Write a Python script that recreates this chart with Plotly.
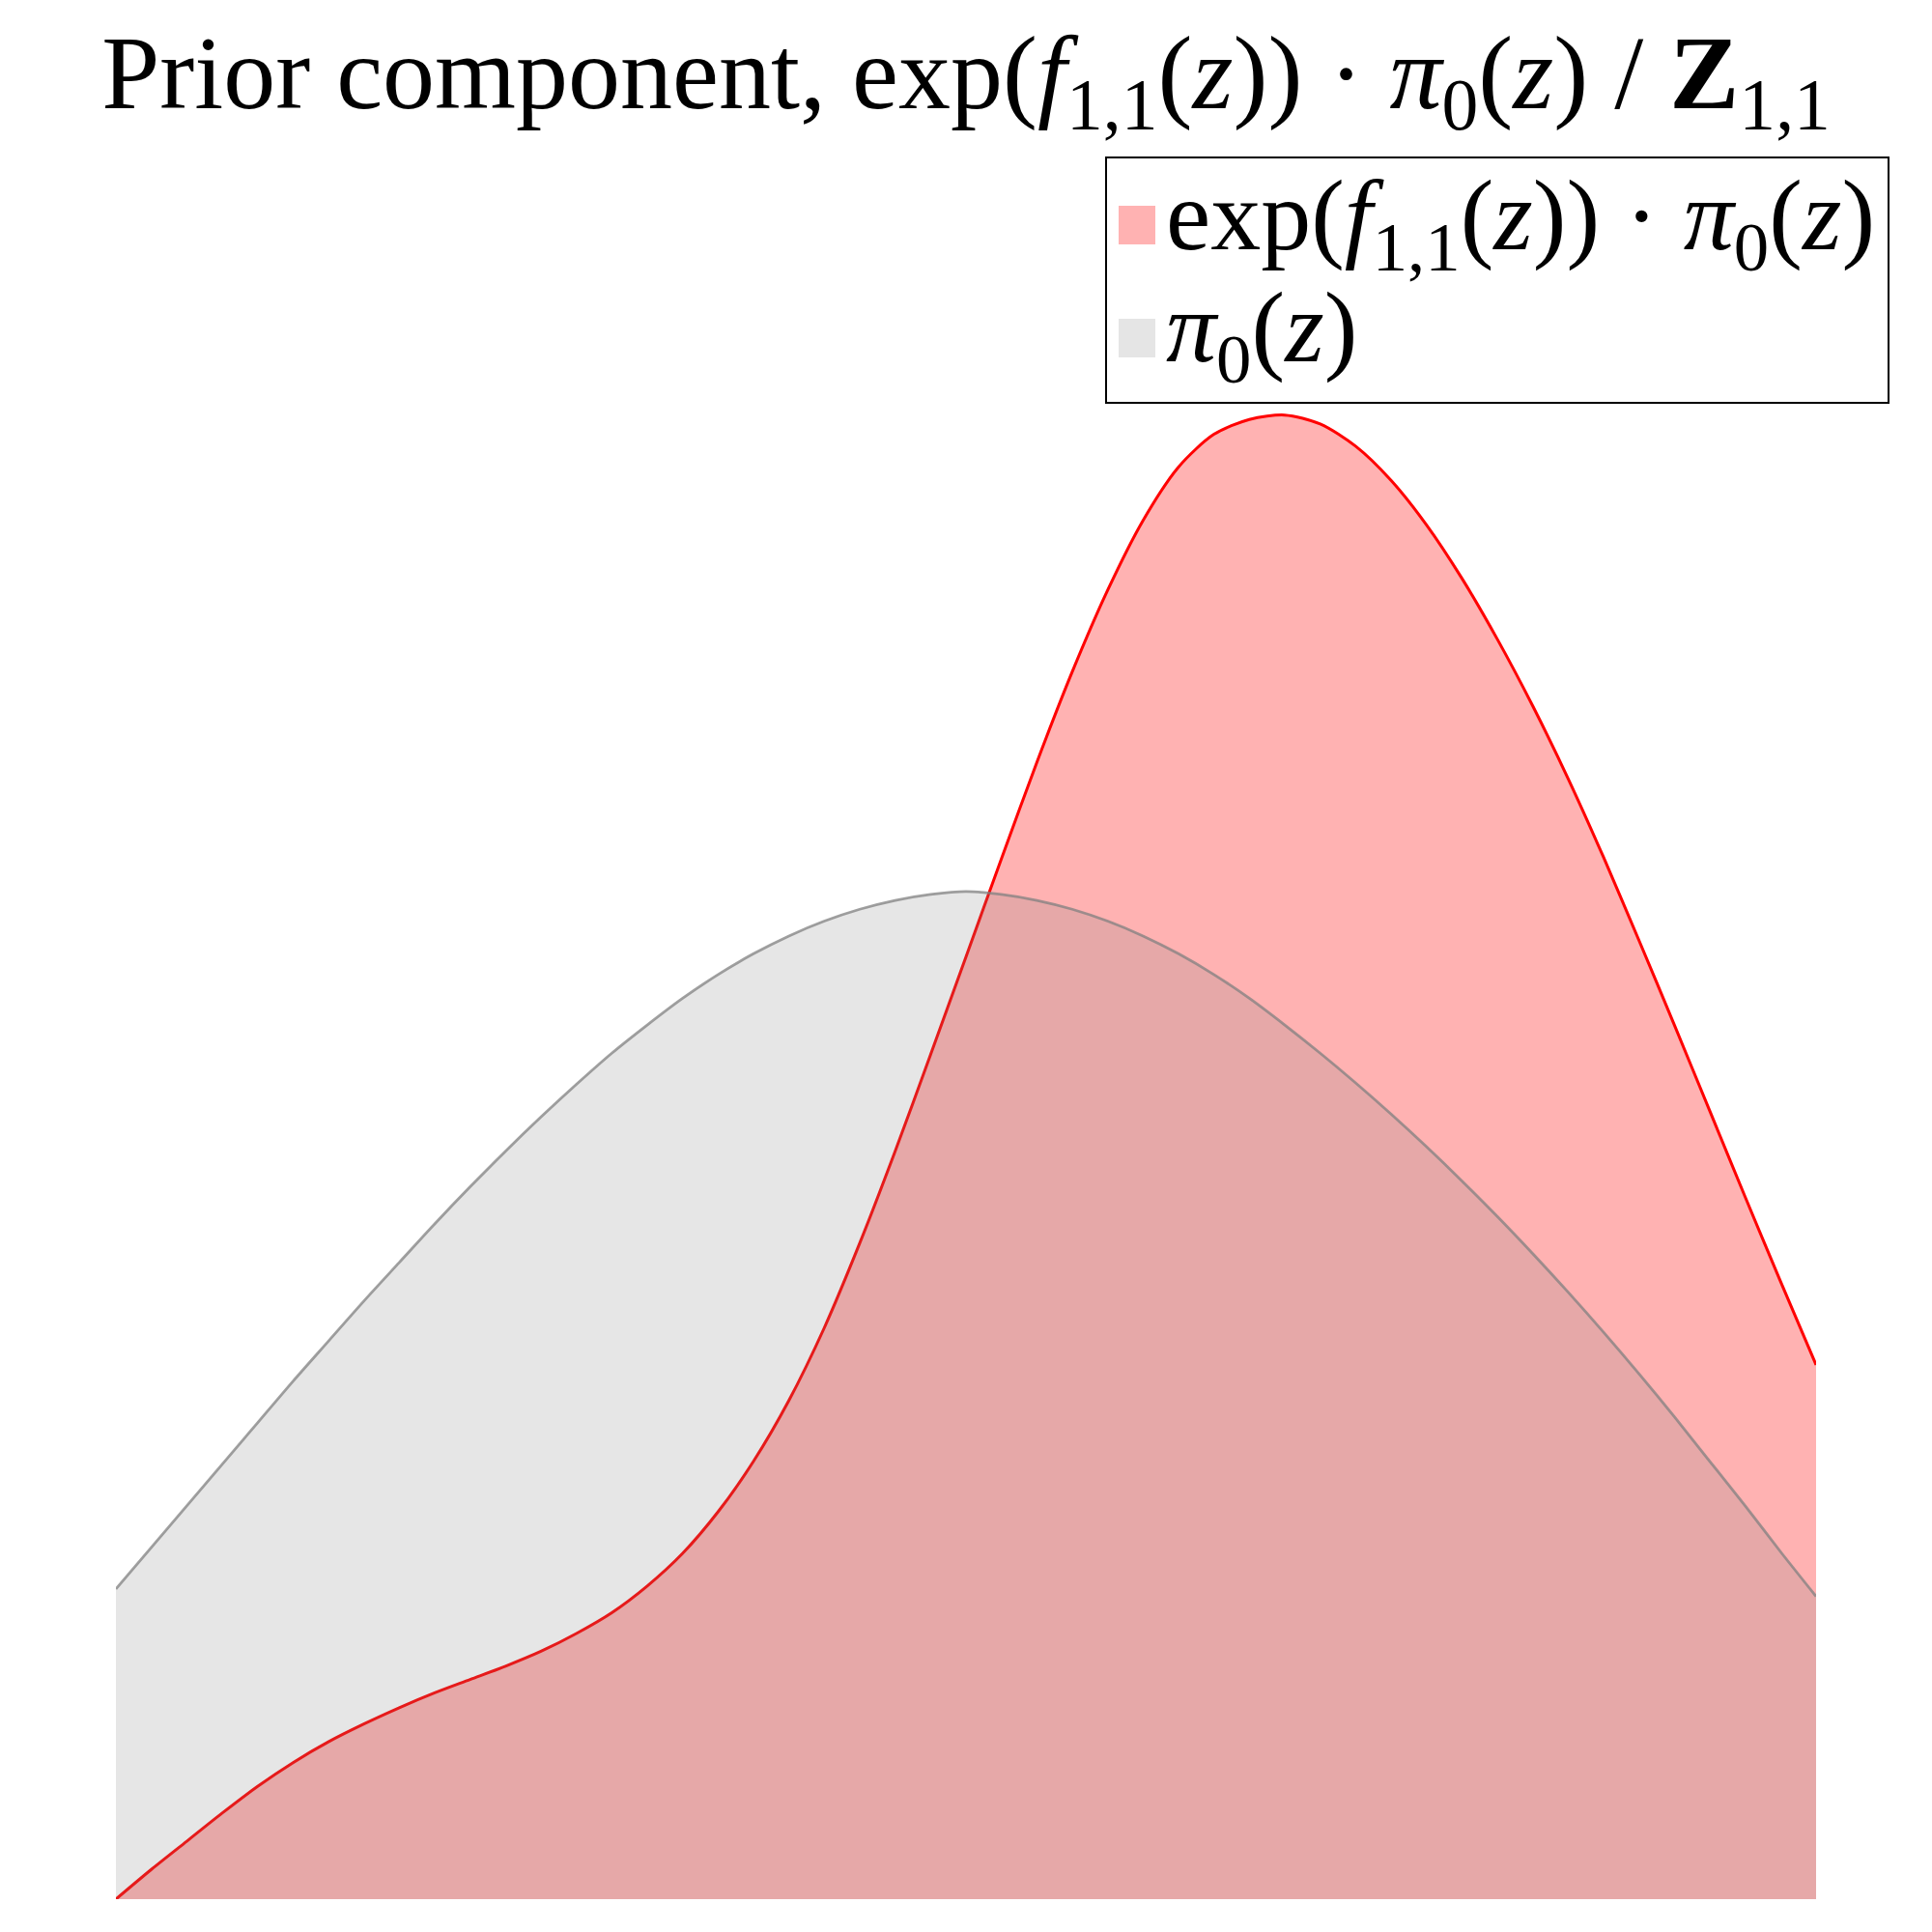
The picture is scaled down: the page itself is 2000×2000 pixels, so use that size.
import plotly.graph_objects as go

# z grid (49 points across the plotted domain)
z = [-3.0 + 0.125 * i for i in range(49)]

# prior pi_0(z)
prior = [0.209, 0.237, 0.265, 0.293, 0.321, 0.349, 0.376, 0.403, 0.429, 0.455,
         0.480, 0.504, 0.527, 0.549, 0.570, 0.589, 0.607, 0.623, 0.637, 0.649,
         0.659, 0.667, 0.673, 0.677, 0.679, 0.677, 0.673, 0.667, 0.659, 0.649,
         0.637, 0.623, 0.607, 0.589, 0.570, 0.550, 0.529, 0.507, 0.484, 0.460,
         0.435, 0.409, 0.382, 0.354, 0.325, 0.295, 0.265, 0.234, 0.204]

# exp(f_{1,1}(z)) * pi_0(z)
component = [0.000, 0.020, 0.039, 0.058, 0.076, 0.092, 0.106, 0.118, 0.129, 0.139,
             0.148, 0.157, 0.167, 0.179, 0.193, 0.211, 0.233, 0.261, 0.295, 0.336,
             0.385, 0.442, 0.504, 0.569, 0.635, 0.701, 0.766, 0.827, 0.882, 0.929,
             0.965, 0.987, 0.997, 1.000, 0.994, 0.979, 0.956, 0.926, 0.890, 0.849,
             0.804, 0.755, 0.702, 0.646, 0.589, 0.531, 0.473, 0.416, 0.360]

title_text = ("Prior component, exp(<i>f</i><sub>1,1</sub>(<i>z</i>)) · "
              "<i>π</i><sub>0</sub>(<i>z</i>) / <b>Z</b><sub>1,1</sub>")
label_component = "exp(<i>f</i><sub>1,1</sub>(<i>z</i>)) · <i>π</i><sub>0</sub>(<i>z</i>)"
label_prior = "<i>π</i><sub>0</sub>(<i>z</i>)"

FIG = 1984          # figure size (page has an 8px body margin)
OFF = 8
ML, MR, MT, MB = 112, 112, 268, 26
PW = FIG - ML - MR
PH = FIG - MT - MB


def px(xp):
    """page pixel x -> paper fraction"""
    return (xp - OFF - ML) / PW


def py(yp):
    """page pixel y -> paper fraction"""
    return (FIG - MB - (yp - OFF)) / PH


FONT = "Liberation Serif"
RED_FILL = "rgba(255,0,0,0.3)"
GREY_FILL = "rgba(128,128,128,0.2)"

fig = go.Figure()
fig.add_trace(go.Scatter(
    x=z, y=component, name="exp(f(z))·π0(z)", mode="lines",
    line=dict(color="red", width=3, shape="spline", smoothing=0.8, simplify=False),
    fill="tozeroy", fillcolor=RED_FILL, showlegend=False,
))
fig.add_trace(go.Scatter(
    x=z, y=prior, name="π0(z)", mode="lines",
    line=dict(color="rgba(128,128,128,0.75)", width=2.8, shape="spline",
              smoothing=0.8, simplify=False),
    fill="tozeroy", fillcolor=GREY_FILL, showlegend=False,
))

shapes = [
    dict(type="rect", xref="paper", yref="paper",
         x0=px(1145), x1=px(1955), y0=py(417), y1=py(163),
         line=dict(color="black", width=2), fillcolor="white", layer="above"),
    dict(type="rect", xref="paper", yref="paper",
         x0=px(1158), x1=px(1196), y0=py(253), y1=py(213),
         line=dict(width=0), fillcolor="rgb(255,178,178)", layer="above"),
    dict(type="rect", xref="paper", yref="paper",
         x0=px(1158), x1=px(1196), y0=py(370), y1=py(330),
         line=dict(width=0), fillcolor="rgb(229,229,229)", layer="above"),
]

annotations = [
    dict(text=label_component, xref="paper", yref="paper", x=px(1205), y=py(231),
         xanchor="left", yanchor="middle", showarrow=False,
         font=dict(family=FONT, size=104, color="black")),
    dict(text=label_prior, xref="paper", yref="paper", x=px(1205), y=py(346),
         xanchor="left", yanchor="middle", showarrow=False,
         font=dict(family=FONT, size=104, color="black")),
]

fig.update_layout(
    width=FIG, height=FIG,
    margin=dict(l=ML, r=MR, t=MT, b=MB, pad=0),
    paper_bgcolor="white", plot_bgcolor="white",
    showlegend=False,
    title=dict(text=title_text, x=(1000 - OFF) / FIG, xanchor="center", xref="container",
               y=1 - 28 / FIG, yanchor="top", yref="container",
               font=dict(family=FONT, size=108, color="black")),
    xaxis=dict(range=[-3, 3], visible=False),
    yaxis=dict(range=[0, 1.1], visible=False),
    shapes=shapes,
    annotations=annotations,
)

fig.write_html("out.html")
